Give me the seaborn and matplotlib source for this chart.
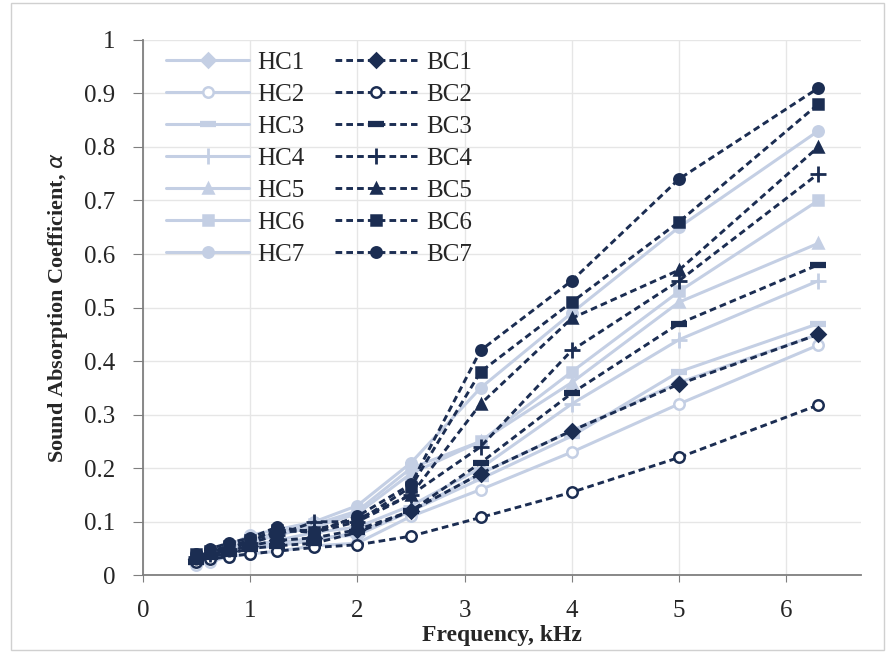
import pandas as pd
import matplotlib.pyplot as plt
import seaborn as sns

freq = [0.5, 0.63, 0.8, 1.0, 1.25, 1.6, 2.0, 2.5, 3.15, 4.0, 5.0, 6.3]

HC1 = [0.03, 0.035, 0.045, 0.055, 0.06, 0.07, 0.075, 0.12, 0.19, 0.27, 0.36, 0.45]
HC2 = [0.02, 0.025, 0.035, 0.04, 0.045, 0.055, 0.06, 0.11, 0.16, 0.23, 0.32, 0.43]
HC3 = [0.025, 0.03, 0.04, 0.05, 0.055, 0.065, 0.08, 0.12, 0.18, 0.26, 0.38, 0.47]
HC4 = [0.03, 0.035, 0.045, 0.055, 0.065, 0.08, 0.09, 0.13, 0.20, 0.32, 0.44, 0.55]
HC5 = [0.03, 0.04, 0.05, 0.06, 0.075, 0.09, 0.115, 0.19, 0.25, 0.36, 0.51, 0.62]
HC6 = [0.035, 0.04, 0.05, 0.065, 0.08, 0.095, 0.12, 0.20, 0.25, 0.38, 0.53, 0.70]
HC7 = [0.035, 0.045, 0.055, 0.075, 0.085, 0.10, 0.13, 0.21, 0.35, 0.49, 0.65, 0.83]

BC1 = [0.03, 0.04, 0.045, 0.055, 0.065, 0.07, 0.085, 0.12, 0.19, 0.27, 0.357, 0.45]
BC2 = [0.025, 0.03, 0.035, 0.04, 0.045, 0.052, 0.057, 0.073, 0.108, 0.155, 0.22, 0.318]
BC3 = [0.025, 0.035, 0.04, 0.05, 0.055, 0.06, 0.08, 0.12, 0.21, 0.34, 0.47, 0.58]
BC4 = [0.035, 0.04, 0.05, 0.06, 0.075, 0.10, 0.10, 0.15, 0.24, 0.42, 0.55, 0.75]
BC5 = [0.035, 0.045, 0.05, 0.065, 0.08, 0.085, 0.105, 0.15, 0.32, 0.48, 0.57, 0.80]
BC6 = [0.04, 0.045, 0.055, 0.065, 0.085, 0.08, 0.10, 0.165, 0.38, 0.51, 0.66, 0.88]
BC7 = [0.04, 0.05, 0.06, 0.07, 0.09, 0.08, 0.11, 0.17, 0.42, 0.55, 0.74, 0.91]

hc = {'HC1': HC1, 'HC2': HC2, 'HC3': HC3, 'HC4': HC4, 'HC5': HC5, 'HC6': HC6, 'HC7': HC7}
bc = {'BC1': BC1, 'BC2': BC2, 'BC3': BC3, 'BC4': BC4, 'BC5': BC5, 'BC6': BC6, 'BC7': BC7}
markers = ['D', 'o', '_', '+', '^', 's', 'o']

light = '#c4cfe4'
dark = '#1b2d52'

sns.set_style('white')
plt.rcParams['font.family'] = ['Liberation Serif', 'DejaVu Serif']

fig = plt.figure(figsize=(8.87, 6.53), dpi=100)
ax = fig.add_axes([0.161, 0.119, 0.81, 0.82])

def draw(series, color, ls, lw):
    for (name, vals), m in zip(series.items(), markers):
        df = pd.DataFrame({'f': freq, 'a': vals})
        face = 'white' if name.endswith('2') else color
        mew = 1.8
        ms = 7.5
        if m == '_':
            mew, ms = 4.5, 12
        elif m == '+':
            mew, ms = 2, 12
        sns.lineplot(data=df, x='f', y='a', ax=ax, color=color, linestyle=ls, lw=lw,
                     marker=m, markersize=ms, markerfacecolor=face,
                     markeredgecolor=color, markeredgewidth=mew, label=name)

draw(hc, light, '-', 2.2)
draw(bc, dark, (0, (2.3, 1.4)), 2.1)

ax.set_xlim(0, 6.7)
ax.set_ylim(0, 1)
ax.set_xticks(range(0, 7))
ax.set_yticks([i / 10 for i in range(11)])
ax.set_yticklabels(['0', '0.1', '0.2', '0.3', '0.4', '0.5', '0.6', '0.7', '0.8', '0.9', '1'])
ax.tick_params(labelsize=18, direction='out', color='#7f7f7f', bottom=True, left=True)
ax.tick_params(axis='x', length=5, pad=13)
ax.tick_params(axis='y', length=7, pad=13)
ax.grid(True, color='#e6e6e6', lw=1)
for s in ['top', 'right']:
    ax.spines[s].set_visible(False)
for s in ['left', 'bottom']:
    ax.spines[s].set_color('#7f7f7f')
    ax.spines[s].set_linewidth(1.3)

ax.set_xlabel('Frequency, kHz', fontsize=17, fontweight='bold', labelpad=2)
ax.set_ylabel('Sound Absorption Coefficient, $\\alpha$', fontsize=16, fontweight='bold', labelpad=10)

ax.legend(ncol=2, loc='upper left', frameon=False, fontsize=18, handlelength=3.3,
          handletextpad=0.35, labelspacing=0.38, columnspacing=1.2,
          borderaxespad=0.2, bbox_to_anchor=(0.012, 1.006))

fig.patches.append(plt.Rectangle((0.012, 0.005), 0.985, 0.99, transform=fig.transFigure,
                                 fill=False, edgecolor='#d0d0d0', lw=1))

fig.savefig('out.png', dpi=100)
